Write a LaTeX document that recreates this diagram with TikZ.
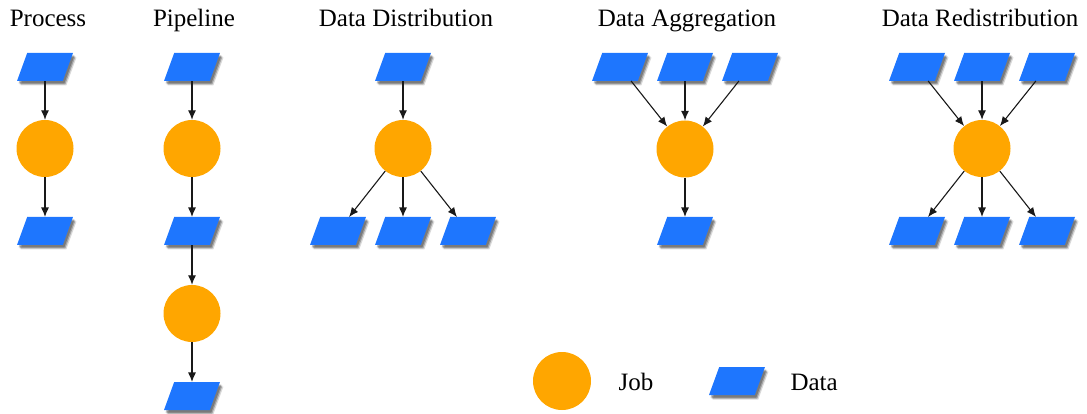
\documentclass[tikz,border=0pt]{standalone}
\usepackage{fontspec}
\setmainfont{Liberation Serif}
\usetikzlibrary{shapes.geometric,shadows,arrows.meta}
\definecolor{datablue}{RGB}{30,118,254}
\definecolor{joborange}{RGB}{255,166,0}
\tikzset{
  data/.style={trapezium, trapezium left angle=70, trapezium right angle=110,
    inner xsep=17.8pt, inner ysep=14pt, outer sep=0pt,
    fill=datablue,
    drop shadow={shadow xshift=3.5pt, shadow yshift=-4.5pt, opacity=0.15, fill=black},
    drop shadow={shadow xshift=2.5pt, shadow yshift=-3.5pt, opacity=0.25, fill=black},
    drop shadow={shadow xshift=1.5pt, shadow yshift=-2.5pt, opacity=0.25, fill=black}},
  job/.style={circle, minimum size=57pt, inner sep=0pt, fill=joborange},
  title/.style={anchor=base, font=\fontsize{25pt}{28pt}\selectfont},
  legtext/.style={anchor=base west, font=\fontsize{25pt}{28pt}\selectfont},
  link/.style={draw=black!90, line width=1.1pt, -{Latex[length=9.5pt,width=8pt]}}
}
\begin{document}
\begin{tikzpicture}[x=1pt,y=1pt]
\useasboundingbox (0,0) rectangle (1087,-414);
% titles
\node[title] (tProcess) at (48,-27) {Process};
\node[title] (tPipeline) at (194,-27) {Pipeline};
\node[title] (tDist) at (406,-27) {Data Distribution};
\node[title] (tAgg) at (687,-27) {Data Aggregation};
\node[title] (tRedist) at (980,-27) {Data Redistribution};
% Process
\node[data] (d1) at (45,-67) {};
\node[job] (j1) at (45,-148.5) {};
\node[data] (d2) at (45,-231) {};
\draw[link] (d1) -- (j1);
\draw[link] (j1) -- (d2);
% Pipeline
\node[data] (p1) at (192,-67) {};
\node[job] (pj1) at (192,-148.5) {};
\node[data] (p2) at (192,-231) {};
\node[job] (pj2) at (192,-313.5) {};
\node[data] (p3) at (192,-396) {};
\draw[link] (p1) -- (pj1);
\draw[link] (pj1) -- (p2);
\draw[link] (p2) -- (pj2);
\draw[link] (pj2) -- (p3);
% Distribution
\node[data] (dd) at (403,-67) {};
\node[job] (dj) at (403,-148.5) {};
\node[data] (db1) at (338,-231) {};
\node[data] (db2) at (403,-231) {};
\node[data] (db3) at (468,-231) {};
\draw[link] (dd) -- (dj);
\draw[link] (dj) -- (db1);
\draw[link] (dj) -- (db2);
\draw[link] (dj) -- (db3);
% Aggregation
\node[data] (at1) at (620,-67) {};
\node[data] (at2) at (685,-67) {};
\node[data] (at3) at (750,-67) {};
\node[job] (aj) at (685,-149) {};
\node[data] (ab) at (685,-231) {};
\draw[link] (at1) -- (aj);
\draw[link] (at2) -- (aj);
\draw[link] (at3) -- (aj);
\draw[link] (aj) -- (ab);
% Redistribution
\node[data] (rt1) at (917,-67) {};
\node[data] (rt2) at (982,-67) {};
\node[data] (rt3) at (1047,-67) {};
\node[job] (rj) at (982,-148.5) {};
\node[data] (rb1) at (917,-231) {};
\node[data] (rb2) at (982,-231) {};
\node[data] (rb3) at (1047,-231) {};
\draw[link] (rt1) -- (rj);
\draw[link] (rt2) -- (rj);
\draw[link] (rt3) -- (rj);
\draw[link] (rj) -- (rb1);
\draw[link] (rj) -- (rb2);
\draw[link] (rj) -- (rb3);
% legend
\node[job, minimum size=58pt] (lj) at (562,-381) {};
\node[legtext] (ljt) at (615,-390) {Job};
\node[data] (ld) at (737,-381) {};
\node[legtext] (ldt) at (787,-390) {Data};
\end{tikzpicture}
\end{document}
